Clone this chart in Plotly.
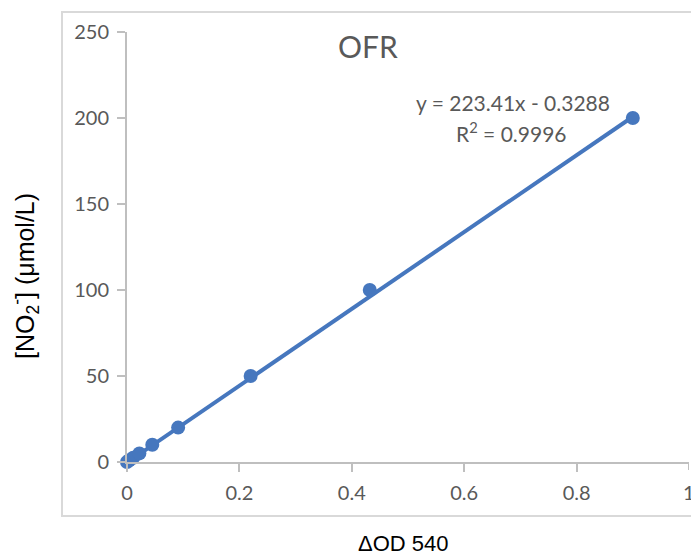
import plotly.graph_objects as go

# Data
od540 = [0.0, 0.004, 0.011, 0.022, 0.045, 0.091, 0.220, 0.432, 0.900]
no2 = [0.0, 1.0, 2.5, 5.0, 10.0, 20.0, 50.0, 100.0, 200.0]
slope = 223.41
intercept = -0.3288
r2 = 0.9996
title_text = "OFR"
x_ticks = [0, 0.2, 0.4, 0.6, 0.8, 1]
x_tick_text = ["0", "0.2", "0.4", "0.6", "0.8", "1"]
y_ticks = [0, 50, 100, 150, 200, 250]

BLUE = "#4677BE"
GRAY_TXT = "#595959"
AXIS_CLR = "#BFBFBF"

W, H = 691, 555
L, R, T, B = 127, 2, 32, 93
pw, ph = W - L - R, H - T - B

def px_x(p):
    return (p - L) / pw

def px_y(p):
    return 1 - (p - T) / ph

fig = go.Figure()

# Trendline
tx = [min(od540), max(od540)]
ty = [slope * v + intercept for v in tx]
fig.add_trace(go.Scatter(x=tx, y=ty, mode="lines",
                         line=dict(color=BLUE, width=4),
                         hoverinfo="skip", showlegend=False, cliponaxis=False))
# Data points
fig.add_trace(go.Scatter(x=od540, y=no2, mode="markers",
                         marker=dict(color=BLUE, size=14),
                         showlegend=False, cliponaxis=False))

tick_font = dict(family="Lato, 'Open Sans', sans-serif", size=20, color=GRAY_TXT)

fig.update_xaxes(range=[0, 1], tickvals=x_ticks[:-1], ticktext=x_tick_text[:-1],
                 showgrid=False, zeroline=False, showline=True,
                 linecolor=AXIS_CLR, linewidth=2, ticks="outside",
                 ticklen=8, tickwidth=2, tickcolor=AXIS_CLR,
                 tickfont=tick_font, ticklabelstandoff=4)
fig.update_yaxes(range=[0, 250], tickvals=y_ticks,
                 showgrid=False, zeroline=False, showline=True,
                 linecolor=AXIS_CLR, linewidth=2, ticks="outside",
                 ticklen=8, tickwidth=2, tickcolor=AXIS_CLR,
                 tickfont=tick_font, ticklabelstandoff=4)

# Chart-area border
fig.add_shape(type="rect", xref="paper", yref="paper",
              x0=px_x(62), x1=px_x(705), y0=px_y(516), y1=px_y(12),
              line=dict(color="#D9D9D9", width=2), layer="below")
# Tick mark at the last x tick (label drawn as annotation since it sits at the edge)
fig.add_shape(type="line", xref="x", yref="paper",
              x0=x_ticks[-1], x1=x_ticks[-1], y0=0, y1=-8 / ph,
              line=dict(color=AXIS_CLR, width=2))

annotations = [
    dict(text=x_tick_text[-1], x=x_ticks[-1], y=px_y(492), xref="x", yref="paper",
         showarrow=False, xanchor="center", yanchor="middle", font=tick_font),
    dict(text=title_text, x=px_x(368), y=px_y(46), xref="paper", yref="paper",
         showarrow=False, xanchor="center", yanchor="middle",
         font=dict(family="Lato, 'Open Sans', sans-serif", size=30, color=GRAY_TXT)),
    dict(text=f"y = {slope}x - {abs(intercept)}", x=px_x(513), y=px_y(102),
         xref="paper", yref="paper", showarrow=False, xanchor="center", yanchor="middle",
         font=dict(family="Lato, 'Open Sans', sans-serif", size=21, color=GRAY_TXT)),
    dict(text=f"R<sup>2</sup> = {r2}", x=px_x(511), y=px_y(132),
         xref="paper", yref="paper", showarrow=False, xanchor="center", yanchor="middle",
         font=dict(family="Lato, 'Open Sans', sans-serif", size=21, color=GRAY_TXT)),
    dict(text="[NO<sub>2</sub><sup>-</sup>] (μmol/L)", x=px_x(25), y=px_y(276),
         xref="paper", yref="paper", showarrow=False, textangle=-90,
         xanchor="center", yanchor="middle",
         font=dict(family="Arial, 'Liberation Sans', sans-serif", size=25, color="#000000")),
    dict(text="ΔOD 540", x=px_x(403), y=px_y(543), xref="paper", yref="paper",
         showarrow=False, xanchor="center", yanchor="middle",
         font=dict(family="Arial, 'Liberation Sans', sans-serif", size=22, color="#000000")),
]

fig.update_layout(width=W, height=H, margin=dict(l=L, r=R, t=T, b=B),
                  paper_bgcolor="white", plot_bgcolor="white",
                  annotations=annotations, showlegend=False)

fig.write_html("out.html", config={"displayModeBar": False},
               post_script="document.body.style.margin='0';document.body.style.overflow='hidden';")
